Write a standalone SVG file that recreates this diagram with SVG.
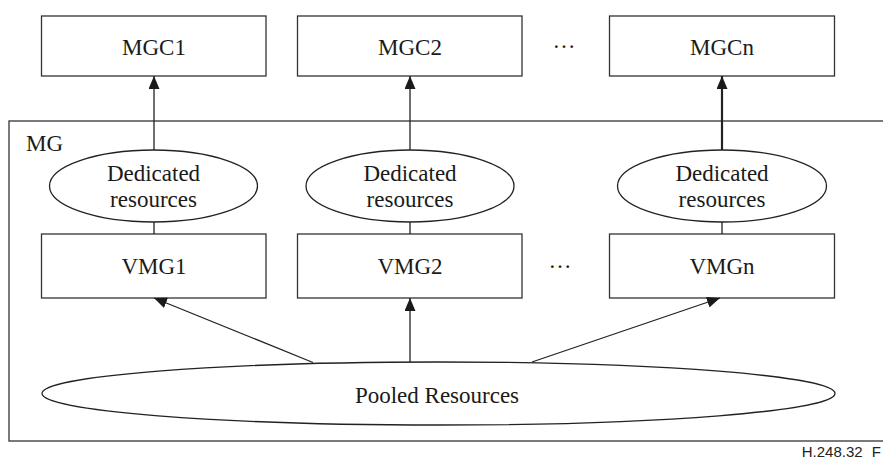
<svg xmlns="http://www.w3.org/2000/svg" width="883" height="462" viewBox="0 0 883 462">
<defs>
<marker id="ah" viewBox="0 0 13 11" refX="13" refY="5.5" markerWidth="13" markerHeight="11" markerUnits="userSpaceOnUse" orient="auto">
<path d="M0,0 L13,5.5 L0,11 Z" fill="#1a1a1a"/>
</marker>
</defs>
<style>
.box{fill:#fff;stroke:#333;stroke-width:1.3}
.ell{fill:#fff;stroke:#222;stroke-width:1.3}
.t{font-family:"Liberation Serif","Times New Roman",serif;font-size:23px;fill:#1a1a1a;text-anchor:middle}
.c{stroke:#222;stroke-width:1.3;fill:none}
.a{stroke:#222;stroke-width:1.3;fill:none;marker-end:url(#ah)}
</style>
<rect width="883" height="462" fill="#fff"/>
<g id="MG">
<rect x="9" y="121" width="880" height="320" fill="none" stroke="#333" stroke-width="1.3"/>
<text x="26" y="151" class="t" style="text-anchor:start">MG</text>
</g>
<g id="MGC1"><rect class="box" x="41.5" y="16" width="224.5" height="60"/><text class="t" x="154" y="55">MGC1</text></g>
<g id="MGC2"><rect class="box" x="297.5" y="16" width="224.5" height="60"/><text class="t" x="410" y="55">MGC2</text></g>
<g id="MGCn"><rect class="box" x="609.5" y="16" width="225" height="60"/><text class="t" x="722" y="55">MGCn</text></g>
<g id="dots1"><text class="t" x="564" y="48">…</text></g>
<g id="DR1"><ellipse class="ell" cx="153.5" cy="186" rx="104" ry="36"/><text class="t" x="153.5" y="181">Dedicated</text><text class="t" x="153.5" y="207">resources</text></g>
<g id="DR2"><ellipse class="ell" cx="410" cy="186" rx="104" ry="36"/><text class="t" x="410" y="181">Dedicated</text><text class="t" x="410" y="207">resources</text></g>
<g id="DRn"><ellipse class="ell" cx="722" cy="186" rx="104.5" ry="36"/><text class="t" x="722" y="181">Dedicated</text><text class="t" x="722" y="207">resources</text></g>
<g id="VMG1"><rect class="box" x="41.5" y="234" width="224.5" height="64"/><text class="t" x="154" y="274">VMG1</text></g>
<g id="VMG2"><rect class="box" x="297.5" y="234" width="224.5" height="64"/><text class="t" x="410" y="274">VMG2</text></g>
<g id="VMGn"><rect class="box" x="609.5" y="234" width="225" height="64"/><text class="t" x="722" y="274">VMGn</text></g>
<g id="dots2"><text class="t" x="560" y="268">…</text></g>
<g id="Pool"><ellipse class="ell" cx="438.5" cy="393.5" rx="396.5" ry="31.5"/><text class="t" x="437" y="403">Pooled Resources</text></g>
<g id="connectors">
<line class="a" x1="154" y1="150" x2="154" y2="76"/>
<line class="a" x1="410" y1="150" x2="410" y2="76"/>
<line class="a" x1="722" y1="150" x2="722" y2="76" style="stroke-width:2.2"/>
<line class="c" x1="154" y1="222" x2="154" y2="234"/>
<line class="c" x1="410" y1="222" x2="410" y2="234"/>
<line class="c" x1="722" y1="222" x2="722" y2="234"/>
<line class="a" x1="313" y1="362.5" x2="154" y2="298"/>
<line class="a" x1="410" y1="362" x2="410" y2="298"/>
<line class="a" x1="532" y1="362" x2="720" y2="298"/>
</g>
<text x="881" y="457" style="font-family:'Liberation Sans',Arial,sans-serif;font-size:15px;fill:#222;text-anchor:end;word-spacing:5px">H.248.32 F</text>
</svg>
